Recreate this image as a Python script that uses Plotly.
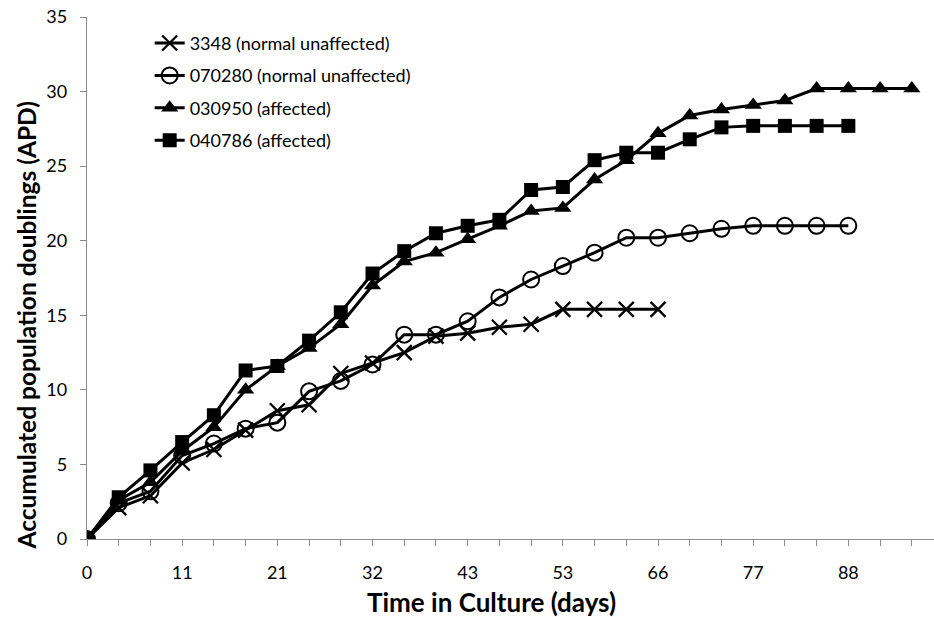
import plotly.graph_objects as go

# Category tick labels (every third sampling point is labelled, in days)
tick_labels = ["0", "11", "21", "32", "43", "53", "66", "77", "88"]
n_points = 27  # sampling points on the category axis

# Accumulated population doublings per sampling point
apd_3348 = [0, 2.1, 2.9, 5.1, 6.0, 7.3, 8.6, 9.0, 11.1, 11.8, 12.5, 13.6, 13.8, 14.2,
            14.4, 15.4, 15.4, 15.4, 15.4]
apd_070280 = [0, 2.4, 3.2, 5.6, 6.4, 7.4, 7.8, 9.9, 10.6, 11.7, 13.7, 13.7, 14.6, 16.2,
              17.4, 18.3, 19.2, 20.2, 20.2, 20.5, 20.8, 21.0, 21.0, 21.0, 21.0]
apd_030950 = [0, 2.6, 3.8, 5.9, 7.5, 10.0, 11.6, 12.8, 14.4, 17.0, 18.6, 19.2, 20.1, 21.0,
              22.0, 22.2, 24.1, 25.4, 27.2, 28.4, 28.8, 29.1, 29.4, 30.2, 30.2, 30.2, 30.2]
apd_040786 = [0, 2.8, 4.6, 6.5, 8.3, 11.3, 11.6, 13.3, 15.2, 17.8, 19.3, 20.5, 21.0, 21.4,
              23.4, 23.6, 25.4, 25.9, 25.9, 26.8, 27.6, 27.7, 27.7, 27.7, 27.7]

series_names = ["3348 (normal unaffected)", "070280 (normal unaffected)",
                "030950 (affected)", "040786 (affected)"]
series_values = [apd_3348, apd_070280, apd_030950, apd_040786]
series_markers = [
    dict(symbol="x-thin-open", size=15, line=dict(width=2.3, color="black"), color="black"),
    dict(symbol="circle-open", size=16, line=dict(width=2, color="black"), color="black"),
    dict(symbol="triangle-up", size=15, color="black", line=dict(width=0)),
    dict(symbol="square", size=14, color="black", line=dict(width=0)),
]

FONT = "Lato, 'Open Sans', sans-serif"

fig = go.Figure()
for i, (name, vals, mk) in enumerate(zip(series_names, series_values, series_markers)):
    fig.add_trace(go.Scatter(
        x=list(range(len(vals))), y=vals, name=name, mode="lines+markers",
        line=dict(color="black", width=3), marker=mk, legendgroup=f"g{i}",
    ))

tick_positions = list(range(n_points))
tick_text = [tick_labels[k // 3] if k % 3 == 0 and k // 3 < len(tick_labels) else "" for k in tick_positions]

fig.update_layout(
    width=934, height=617,
    margin=dict(l=87, r=0, t=17, b=78),
    paper_bgcolor="white", plot_bgcolor="white",
    font=dict(family=FONT, size=18, color="black"),
    showlegend=True,
    legend=dict(x=0.074, y=0.985, xanchor="left", yanchor="top",
                bgcolor="rgba(0,0,0,0)", font=dict(size=18, family=FONT),
                tracegroupgap=6, itemwidth=30),
    xaxis=dict(range=[0, 26.7], tickmode="array", tickvals=tick_positions, ticktext=tick_text,
               showline=True, linecolor="#8c8c8c", linewidth=1.3,
               ticks="outside", ticklen=6, tickcolor="#8c8c8c", tickwidth=1.3,
               showgrid=False, zeroline=False, tickfont=dict(size=18),
               ticklabelstandoff=11, automargin=False),
    yaxis=dict(range=[0, 35], tickmode="linear", tick0=0, dtick=5,
               showline=True, linecolor="#8c8c8c", linewidth=1.3,
               ticks="outside", ticklen=6, tickcolor="#8c8c8c", tickwidth=1.3,
               showgrid=False, zeroline=False, tickfont=dict(size=18),
               ticklabelstandoff=9, automargin=False),
    annotations=[
        dict(text="<b>Time in Culture (days)</b>", xref="paper", yref="paper",
             x=0.478, y=-0.1215, xanchor="center", yanchor="middle", showarrow=False,
             font=dict(size=26, family=FONT)),
        dict(text="<b>Accumulated population doublings (APD)</b>", xref="paper", yref="paper",
             x=-0.072, y=0.409, xanchor="center", yanchor="middle", showarrow=False,
             textangle=-90, font=dict(size=24.5, family=FONT)),
    ],
)

fig.write_html("out.html", config={"displayModeBar": False},
               post_script="document.body.style.margin='0px';")
